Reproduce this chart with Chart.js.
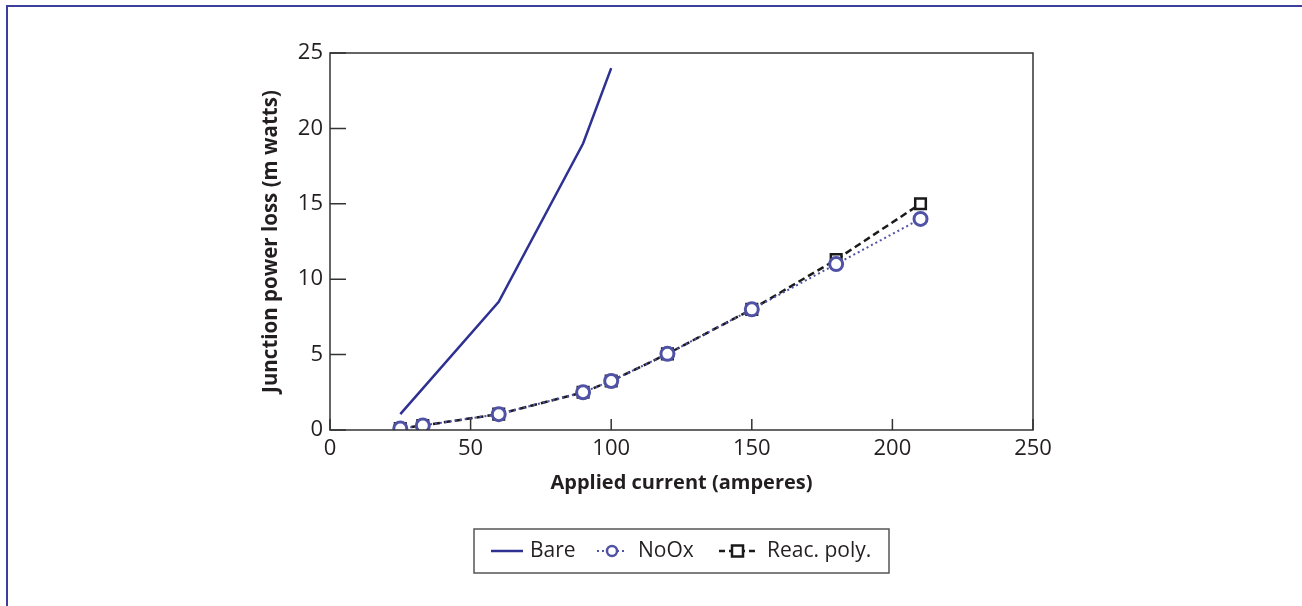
<!DOCTYPE html>
<html>
<head>
<meta charset="utf-8">
<script src="https://cdn.jsdelivr.net/npm/chart.js@4.4.1/dist/chart.umd.min.js"></script>
<style>
  body { margin: 0; background: #fff; }
  #wrap { position: relative; width: 1302px; height: 606px; }
  #frame { position: absolute; left: 6px; top: 5px; right: 0; bottom: 0;
           border-top: 2px solid #3b3f9b; border-left: 2px solid #3b3f9b; }
  canvas { position: absolute; left: 0; top: 0; }
</style>
</head>
<body>
<div id="wrap">
  <div id="frame"></div>
  <canvas id="myChart" width="1302" height="606"></canvas>
</div>
<script>
// applied current (amperes)
const currents = [25, 33, 60, 90, 100, 120, 150, 180, 210];
const bareCurrents = [25, 60, 90, 100];

// junction power loss (m watts)
const bareLoss = [1.05, 8.5, 19, 24];
const noOxLoss = [0.1, 0.3, 1.05, 2.5, 3.25, 5.05, 8.0, 11.0, 14.0];
const reacLoss = [0.1, 0.3, 1.05, 2.5, 3.25, 5.05, 8.0, 11.3, 15.0];

const xTicks = [0, 50, 100, 150, 200, 250];
const yTicks = [0, 5, 10, 15, 20, 25];

const seriesNames = ['Bare', 'NoOx', 'Reac. poly.'];

const toPoints = (xs, ys) => xs.map((x, i) => ({ x: x, y: ys[i] }));

const FONT = '"Open Sans", "Noto Sans", sans-serif';
const TEXT = '#231f20';

// box + inward ticks + legend
const framePlugin = {
  id: 'framePlugin',
  afterDraw(chart) {
    const c = chart.ctx, a = chart.chartArea;
    const xs = chart.scales.x, ys = chart.scales.y;
    c.save();
    c.strokeStyle = '#333';
    c.lineWidth = 1.5;
    c.strokeRect(a.left, a.top, a.right - a.left, a.bottom - a.top);
    c.beginPath();
    xTicks.forEach(v => {
      const px = xs.getPixelForValue(v);
      c.moveTo(px, a.bottom); c.lineTo(px, a.bottom - 11);
    });
    yTicks.forEach(v => {
      const py = ys.getPixelForValue(v);
      c.moveTo(a.left, py); c.lineTo(a.left + 16, py);
    });
    c.stroke();

    // legend box
    const lx = 474, ly = 529, lw = 415, lh = 44, cy = ly + lh / 2;
    c.strokeStyle = '#555';
    c.lineWidth = 1.5;
    c.strokeRect(lx, ly, lw, lh);
    c.font = '21px ' + FONT;
    c.fillStyle = TEXT;
    c.textBaseline = 'middle';
    const ds = chart.data.datasets;

    // Bare
    c.strokeStyle = ds[0].borderColor; c.lineWidth = 2.5; c.setLineDash([]);
    c.beginPath(); c.moveTo(491, cy); c.lineTo(523, cy); c.stroke();
    c.fillText(seriesNames[0], 530, cy);

    // NoOx
    c.strokeStyle = ds[1].borderColor; c.lineWidth = 2; c.setLineDash([2, 3]);
    c.beginPath(); c.moveTo(597, cy); c.lineTo(627, cy); c.stroke();
    c.setLineDash([]); c.lineWidth = 2.5; c.fillStyle = '#fff';
    c.beginPath(); c.arc(612, cy, 5, 0, Math.PI * 2); c.fill(); c.stroke();
    c.fillStyle = TEXT;
    c.fillText(seriesNames[1], 638, cy);

    // Reac. poly.
    c.strokeStyle = ds[2].borderColor; c.lineWidth = 2.5; c.setLineDash([6, 4]);
    c.beginPath(); c.moveTo(719, cy); c.lineTo(759, cy); c.stroke();
    c.setLineDash([]); c.fillStyle = '#fff';
    c.fillRect(732, cy - 5.5, 11, 11); c.strokeRect(732, cy - 5.5, 11, 11);
    c.fillStyle = TEXT;
    c.fillText(seriesNames[2], 767, cy);
    c.restore();
  }
};

new Chart(document.getElementById('myChart'), {
  type: 'line',
  data: {
    datasets: [{
      label: seriesNames[0],
      data: toPoints(bareCurrents, bareLoss),
      borderColor: '#2e3192',
      borderWidth: 2.5,
      pointRadius: 0,
      tension: 0
    }, {
      label: seriesNames[1],
      data: toPoints(currents, noOxLoss),
      borderColor: '#5053a5',
      borderWidth: 2,
      borderDash: [2, 3],
      pointStyle: 'circle',
      pointRadius: 6.5,
      pointBorderWidth: 3,
      pointBackgroundColor: '#fff',
      pointBorderColor: '#5053a5',
      tension: 0
    }, {
      label: seriesNames[2],
      data: toPoints(currents, reacLoss),
      borderColor: '#1a1a1a',
      borderWidth: 2.5,
      borderDash: [7, 4],
      pointStyle: 'rect',
      pointRadius: 7.5,
      pointBorderWidth: 2.5,
      pointBackgroundColor: '#fff',
      pointBorderColor: '#1a1a1a',
      tension: 0
    }]
  },
  options: {
    responsive: false,
    animation: false,
    layout: { padding: { left: 259, right: 269, top: 53, bottom: 111 } },
    plugins: {
      legend: { display: false },
      tooltip: { enabled: false }
    },
    scales: {
      x: {
        type: 'linear',
        min: 0, max: 250,
        afterFit: s => { s.height = 65; },
        afterBuildTicks: s => { s.ticks = xTicks.map(v => ({ value: v })); },
        grid: { display: false, drawTicks: false },
        border: { display: false },
        ticks: { color: TEXT, padding: 6, font: { family: FONT, size: 22 } },
        title: { display: true, text: 'Applied current (amperes)', color: TEXT,
                 padding: 0, font: { family: FONT, size: 20, weight: 'bold' } }
      },
      y: {
        min: 0, max: 25,
        afterFit: s => { s.width = 71; },
        afterBuildTicks: s => { s.ticks = yTicks.map(v => ({ value: v })); },
        grid: { display: false, drawTicks: false },
        border: { display: false },
        ticks: { color: TEXT, padding: 7, font: { family: FONT, size: 22 } },
        title: { display: true, text: 'Junction power loss (m watts)', color: TEXT,
                 padding: 0, font: { family: FONT, size: 20.5, weight: 'bold' } }
      }
    }
  },
  plugins: [framePlugin]
});
</script>
</body>
</html>
